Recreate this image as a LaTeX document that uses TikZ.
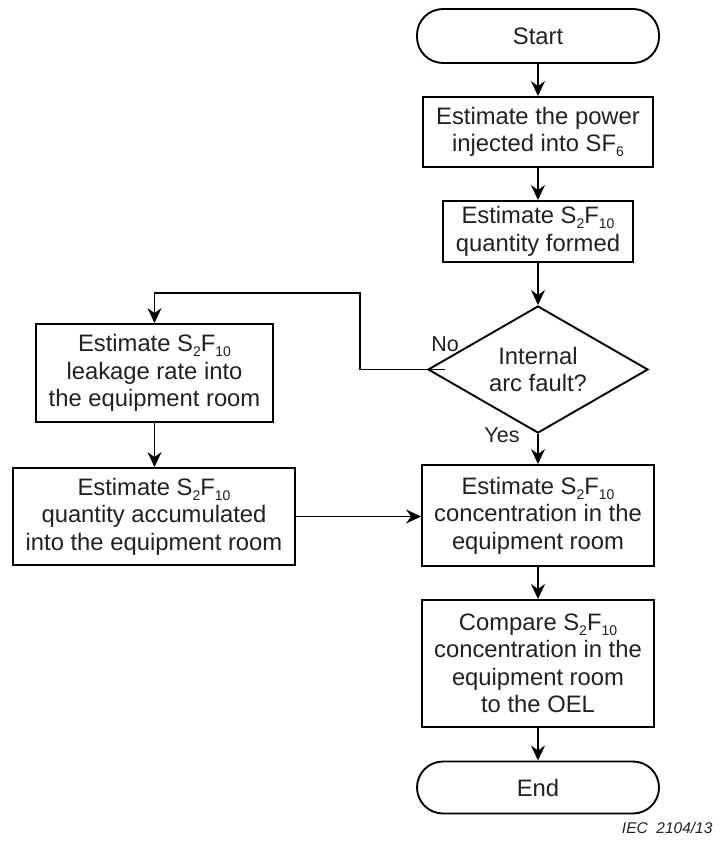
\documentclass[tikz,border=0pt]{standalone}
\usepackage{fontspec}
\setmainfont{Liberation Sans}
\usetikzlibrary{arrows.meta,shapes.geometric}
\definecolor{ink}{rgb}{0.14,0.12,0.13}
% lowered subscript in the running font
\newcommand{\lowsub}[1]{\raisebox{-5pt}{\fontsize{14}{14}\selectfont #1}}
\begin{document}
\begin{tikzpicture}[x=1pt,y=-1pt,
  every node/.style={text=ink},
  txt/.style={font=\fontsize{23.8}{27.5}\selectfont, align=center},
  procbox/.style={txt, draw=black, line width=1.9pt, rectangle, inner sep=0pt},
  termbox/.style={txt, draw=black, line width=1.9pt, rectangle, rounded corners=26pt, inner sep=0pt, minimum width=242pt},
  decbox/.style={txt, draw=black, line width=1.9pt, diamond, shape aspect=1.73, inner sep=0pt, minimum width=220pt, minimum height=127pt},
  flow/.style={draw=black, line width=1.9pt, -{Stealth[length=15pt,width=14pt,inset=5pt]}},
  tag/.style={font=\fontsize{21.5}{24}\selectfont}
]
\useasboundingbox (0,0) rectangle (721,843);

% main column
\node[termbox, minimum height=54pt] (start) at (538,36) {Start};
\node[procbox, minimum width=230pt, minimum height=70pt] (power) at (538,132)
  {Estimate the power\\injected into SF\lowsub{6}};
\node[procbox, minimum width=190pt, minimum height=61pt] (formed) at (538,231.5)
  {Estimate S\lowsub{2}F\lowsub{10}\\quantity formed};
\node[decbox] (fault) at (538,369.5) {Internal\\arc fault?};
\node[procbox, minimum width=232pt, minimum height=101pt] (conc) at (538,515.5)
  {Estimate S\lowsub{2}F\lowsub{10}\\concentration in the\\equipment room};
\node[procbox, minimum width=232pt, minimum height=127pt] (oel) at (538,663.5)
  {Compare S\lowsub{2}F\lowsub{10}\\concentration in the\\equipment room\\to the OEL};
\node[termbox, minimum height=52pt] (stop) at (538,787.5) {End};

% left column
\node[procbox, minimum width=237pt, minimum height=98pt] (leak) at (154.5,373)
  {Estimate S\lowsub{2}F\lowsub{10}\\leakage rate into\\the equipment room};
\node[procbox, minimum width=282pt, minimum height=97pt] (accum) at (154,516.5)
  {Estimate S\lowsub{2}F\lowsub{10}\\quantity accumulated\\into the equipment room};

% connectors
\draw[flow] (start.south) -- (power.north);
\draw[flow] (power.south) -- (formed.north);
\draw[flow] (formed.south) -- (fault.north);
\draw[flow] (fault.south) -- (conc.north);
\draw[flow] (conc.south) -- (oel.north);
\draw[flow] (oel.south) -- (stop.north);

\coordinate (nobend) at (360,293);
\draw[flow] ([xshift=18pt]fault.west) -| (nobend) -| (leak.north);
\draw[flow] (leak.south) -- (leak.south |- accum.north);
\draw[flow] (accum.east) -- (accum.east -| conc.west);

% branch labels
\node[tag] (nolbl) at (445,344) {No};
\node[tag] (yeslbl) at (502,435) {Yes};

% figure reference
\node[anchor=base east, font=\itshape\fontsize{15.5}{18}\selectfont] (ref) at (716,833) {IEC~~2104/13};
\end{tikzpicture}
\end{document}
